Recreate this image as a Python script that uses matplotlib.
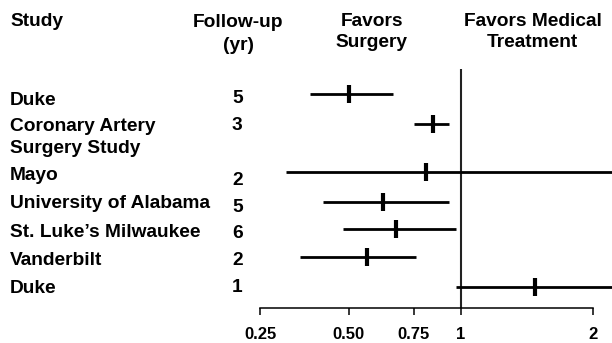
import numpy as np
import matplotlib
matplotlib.use('Agg')
import matplotlib.pyplot as plt

plt.rcParams['font.family'] = ['Liberation Sans', 'DejaVu Sans']
plt.rcParams['font.weight'] = 'bold'

# data (risk ratio, 95% CI)
studies = ['Duke', 'Coronary Artery\nSurgery Study', 'Mayo', 'University of Alabama',
           "St. Luke\u2019s Milwaukee", 'Vanderbilt', 'Duke']
followup = ['5', '3', '2', '5', '6', '2', '1']
estimate = [0.50, 0.845, 0.81, 0.62, 0.67, 0.56, 1.48]
ci_low = [0.37, 0.75, 0.305, 0.41, 0.48, 0.34, 0.97]
ci_high = [0.66, 0.93, 2.5, 0.93, 0.97, 0.76, 2.5]
ticks = [0.25, 0.5, 0.75, 1, 2]
tick_labels = ['0.25', '0.50', '0.75', '1', '2']

# layout (pixels from top of a 612x343 figure)
W, H = 612, 343
row_y = [94.3, 124, 172.3, 202.3, 229, 257.3, 286.7]
label_base = [105, 131, 180, 208.3, 236.7, 265, 293.3]
fu_base = [103.3, 130, 185, 211.7, 238.3, 265, 291.7]
axis_y = 308

# the printed axis is not quite logarithmic: anchor each tick where it is drawn
anc_v = np.log(ticks)
anc_p = np.array([260.3, 348.7, 413.7, 460.5, 592.7])


def fwd(x):
    x = np.asarray(x, dtype=float)
    lx = np.log(np.clip(x, 1e-6, None))
    y = np.interp(lx, anc_v, anc_p)
    s0 = (anc_p[1] - anc_p[0]) / (anc_v[1] - anc_v[0])
    s1 = (anc_p[-1] - anc_p[-2]) / (anc_v[-1] - anc_v[-2])
    y = np.where(lx < anc_v[0], anc_p[0] + (lx - anc_v[0]) * s0, y)
    y = np.where(lx > anc_v[-1], anc_p[-1] + (lx - anc_v[-1]) * s1, y)
    return y


def inv(p):
    p = np.asarray(p, dtype=float)
    lx = np.interp(p, anc_p, anc_v)
    s0 = (anc_v[1] - anc_v[0]) / (anc_p[1] - anc_p[0])
    s1 = (anc_v[-1] - anc_v[-2]) / (anc_p[-1] - anc_p[-2])
    lx = np.where(p < anc_p[0], anc_v[0] + (p - anc_p[0]) * s0, lx)
    lx = np.where(p > anc_p[-1], anc_v[-1] + (p - anc_p[-1]) * s1, lx)
    return np.exp(lx)


fig = plt.figure(figsize=(W / 100, H / 100), dpi=100)
ax = fig.add_axes([0, (H - axis_y) / H, 1, axis_y / H])
ax.set_xscale('function', functions=(fwd, inv))
ax.set_xlim(float(inv(0)), float(inv(W)))
ax.set_ylim(axis_y, 0)

ax.vlines(1, 69, axis_y, color='#222222', lw=1.5)
ax.hlines(row_y, ci_low, ci_high, color='black', lw=2.0)
ax.plot(estimate, row_y, ls='none', marker='|', ms=12.5, mew=3, color='black')

for s in ['top', 'left', 'right']:
    ax.spines[s].set_visible(False)
ax.spines['bottom'].set_bounds(0.25, 2)
ax.spines['bottom'].set_linewidth(1.1)
ax.set_yticks([])
ax.set_xticks(ticks)
ax.set_xticklabels(tick_labels)
ax.xaxis.set_minor_locator(matplotlib.ticker.NullLocator())
ax.tick_params(axis='x', direction='out', length=5, width=1.1, pad=9, labelsize=12)
ax.patch.set_alpha(0)


def ft(x, y, s, **kw):
    fig.text(x / W, 1 - y / H, s, fontsize=13.8, fontweight='bold', va='baseline', **kw)


ft(10, 26, 'Study')
ft(238.5, 26.7, 'Follow-up', ha='center')
ft(238.5, 50, '(yr)', ha='center')
ft(371.8, 26, 'Favors', ha='center')
ft(371.8, 46.7, 'Surgery', ha='center')
ft(532.7, 26, 'Favors Medical', ha='center')
ft(532.7, 46.7, 'Treatment', ha='center')

for i, name in enumerate(studies):
    lines = name.split('\n')
    for j, ln in enumerate(lines):
        ft(10, label_base[i] + j * 22.3, ln)
    ft(232, fu_base[i], followup[i])

fig.savefig('out.png', dpi=100)
